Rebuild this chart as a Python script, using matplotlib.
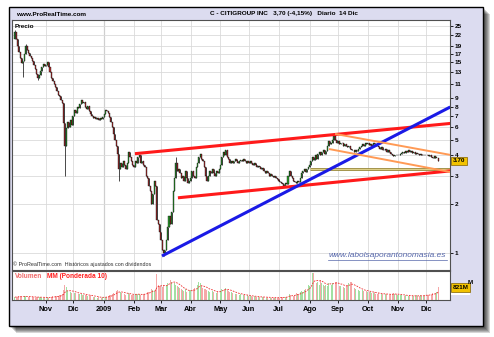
import numpy as np
import pandas as pd
import matplotlib
matplotlib.use('Agg')
import matplotlib.pyplot as plt
from matplotlib.patches import Rectangle

plt.rcParams['font.family'] = ['Liberation Sans', 'DejaVu Sans']

W, H = 494, 337

# daily closes, Oct 2008 .. 14 Dec 2009
close = [
    # Oct 2008
    23.0, 21.0, 19.0, 17.5, 16.0, 14.8, 15.2, 17.0, 19.0, 18.0, 17.2, 16.5, 16.0, 15.3, 14.5, 13.6, 12.8, 12.0, 12.6, 13.3, 14.0, 14.6, 14.2,
    # Nov
    14.5, 15.0, 14.0, 13.0, 12.0, 11.5, 11.0, 10.5, 10.0, 9.5, 9.3, 8.8, 8.4, 6.3, 4.6, 5.9, 6.4, 6.0, 6.6, 6.2,
    # Dec
    7.0, 7.6, 7.3, 8.0, 7.8, 8.3, 8.8, 8.4, 8.6, 8.0, 7.7, 8.1, 7.5, 7.2, 7.0, 6.8, 6.9, 6.7, 6.8, 6.6, 6.8, 6.7, 6.9,
    # Jan 2009
    7.2, 7.6, 7.5, 7.3, 6.9, 6.4, 6.0, 5.4, 5.0, 4.6, 4.1, 3.3, 3.6, 3.4, 3.7, 3.5, 3.3, 3.6, 4.2, 3.9, 3.7, 3.5,
    # Feb
    3.4, 3.7, 3.6, 3.9, 4.0, 3.6, 3.7, 3.5, 3.4, 3.0, 2.9, 2.6, 2.4, 2.0, 2.3, 2.8, 2.6, 1.6, 1.5, 1.35,
    # Mar
    1.2, 1.05, 1.0, 1.05, 1.2, 1.45, 1.7, 1.5, 1.8, 2.4, 2.9, 3.6, 3.2, 3.3, 3.1, 2.9, 3.0, 2.8, 3.2, 2.9, 2.7, 2.8,
    # Apr
    2.9, 3.2, 3.0, 2.9, 3.4, 3.6, 3.9, 4.1, 3.8, 3.7, 3.4, 3.0, 2.8, 3.0, 3.2, 3.1, 3.3, 3.1, 3.0, 3.2, 3.1, 3.3,
    # May
    3.5, 3.9, 4.2, 4.0, 4.3, 3.9, 3.8, 3.6, 3.7, 3.6, 3.7, 3.8, 3.7, 3.6, 3.7, 3.75, 3.7, 3.8, 3.7, 3.6, 3.7,
    # Jun
    3.6, 3.7, 3.6, 3.5, 3.6, 3.5, 3.4, 3.45, 3.4, 3.3, 3.35, 3.2, 3.1, 3.2, 3.1, 3.0, 3.05, 3.0, 2.95, 3.0, 2.9, 2.85,
    # Jul
    2.8, 2.75, 2.7, 2.65, 2.6, 2.7, 2.65, 3.0, 3.2, 3.0, 2.9, 2.8, 2.75, 2.7, 2.8, 2.75, 2.9, 3.1, 3.2, 3.3, 3.15, 3.3, 3.4,
    # Aug
    3.5, 3.7, 3.9, 3.75, 4.0, 3.8, 4.1, 4.2, 4.0, 4.2, 4.3, 4.1, 4.25, 4.6, 4.9, 4.7, 4.8, 5.0, 5.3, 5.0, 4.8,
    # Sep
    4.9, 4.7, 4.8, 4.75, 4.6, 4.7, 4.6, 4.5, 4.6, 4.4, 4.3, 4.35, 4.2, 4.3, 4.25, 4.4, 4.5, 4.6, 4.7, 4.6, 4.75, 4.7,
    # Oct
    4.8, 4.65, 4.7, 4.6, 4.75, 4.7, 4.6, 4.55, 4.5, 4.4, 4.5, 4.35, 4.3, 4.4, 4.2, 4.3, 4.2, 4.1, 4.0, 3.95, 4.05, 4.0,
    # Nov
    4.0, 4.05, 4.1, 4.15, 4.2, 4.15, 4.25, 4.2, 4.3, 4.2, 4.25, 4.15, 4.2, 4.1, 4.15, 4.1, 4.05, 4.1, 4.0, 4.05, 4.0,
    # Dec
    4.05, 4.0, 3.95, 4.0, 3.9, 3.85, 3.95, 3.85, 3.86, 3.70,
]

# daily volume, millions of shares
volume = [
    180, 210, 190, 230, 250, 200, 260, 240, 280, 220, 200, 190, 180, 210, 170, 160, 200, 190, 180, 170, 150, 160, 170,
    150, 170, 160, 190, 200, 230, 210, 250, 260, 280, 300, 330, 420, 650, 1000, 850, 600, 500, 550, 450,
    520, 480, 430, 460, 400, 420, 380, 350, 330, 360, 300, 280, 260, 300, 250, 220, 200, 180, 150, 170, 160, 140, 180,
    180, 220, 200, 260, 300, 350, 400, 450, 550, 620, 680, 580, 500, 450, 420, 380, 360, 400, 450, 380, 330, 350,
    320, 380, 400, 420, 380, 350, 330, 370, 420, 480, 500, 550, 600, 700, 650, 600, 700, 1700, 1000, 900,
    950, 850, 1000, 800, 900, 1100, 1400, 1300, 1200, 1350, 1100, 1000, 900, 850, 800, 700, 650, 600, 700, 550, 500, 600,
    650, 600, 700, 800, 900, 1000, 1200, 1100, 900, 800, 700, 750, 650, 600, 550, 700, 600, 500, 550, 450, 500, 550,
    600, 750, 850, 700, 800, 650, 600, 550, 500, 450, 480, 420, 400, 380, 350, 400, 330, 300, 320, 280, 300,
    260, 240, 250, 220, 230, 200, 210, 190, 200, 180, 190, 170, 180, 160, 170, 150, 160, 140, 150, 140, 160, 150,
    150, 160, 170, 180, 200, 190, 220, 300, 400, 350, 300, 280, 320, 450, 380, 420, 500, 600, 550, 650, 700, 800, 1000,
    900, 1200, 1750, 1800, 1300, 1100, 1200, 1000, 1300, 1100, 1000, 900, 1000, 950, 1100, 1200, 1000, 1100, 1200, 1150, 1200,
    1000, 950, 900, 1000, 850, 800, 900, 1000, 1100, 1200, 1150, 1000, 800, 700, 750, 650, 600, 700, 650, 600, 550, 600,
    550, 500, 520, 480, 450, 500, 420, 400, 450, 380, 420, 400, 350, 380, 400, 330, 350, 380, 420, 450, 400, 380,
    350, 330, 300, 350, 320, 280, 300, 260, 280, 300, 250, 270, 260, 240, 300, 280, 260, 300, 250, 280, 320,
    400, 350, 300, 380, 330, 450, 500, 480, 550, 821,
]

open_first = 21.0
wick_high = {0: 23.8, 8: 19.5, 119: 3.9, 236: 5.5}
wick_low = {6: 12.2, 17: 11.7, 37: 3.0, 77: 2.8, 110: 0.96}

month_labels = ['Nov', 'Dic', '2009', 'Feb', 'Mar', 'Abr', 'May', 'Jun', 'Jul', 'Ago', 'Sep', 'Oct', 'Nov', 'Dic']
price_ticks = [1, 2, 3, 4, 5, 6, 7, 8, 9, 11, 13, 15, 17, 19, 22, 25]

# drawn lines: (bar0, price0, bar1, price1, colour, width)
trend_lines = [
    (88.8, 4.10, 322, 6.30, '#ff1a1a', 2.2),
    (120.6, 2.19, 322, 3.21, '#ff1a1a', 2.2),
    (108.8, 0.958, 322, 7.96, '#1a1ae6', 2.2),
    (236.8, 5.43, 322, 4.03, '#ff9a55', 1.4),
    (232.3, 4.38, 322, 3.16, '#ff9a55', 1.4),
]
level_line = (218.3, 3.28)

dates = pd.bdate_range('2008-10-01', periods=len(close))
idx = np.arange(len(close))
month_pos = [i for i in range(1, len(dates)) if dates[i].month != dates[i - 1].month]

c = np.array(close)
o = np.concatenate([[open_first], c[:-1]])
up = c >= o
body_lo = np.minimum(o, c)
body_hi = np.maximum(o, c)
hi = body_hi.copy()
lo = body_lo.copy()
for k, v in wick_high.items():
    hi[k] = v
for k, v in wick_low.items():
    lo[k] = v


def wma(values, n=10):
    out = []
    for i in range(len(values)):
        seg = np.array(values[max(0, i - n + 1): i + 1], dtype=float)
        w = np.arange(1, len(seg) + 1)
        out.append((seg * w).sum() / w.sum())
    return np.array(out)


def fx(x):
    return x / W


def fy(y):
    return 1 - y / H


fig = plt.figure(figsize=(W / 100, H / 100), dpi=100)
fig.patch.set_facecolor('white')

# shadow + frame
for k in range(2, 8):
    fig.add_artist(Rectangle((fx(9 + k), fy(326 + k)), fx(474), 319 / H, transform=fig.transFigure,
                             facecolor='black', edgecolor='none', alpha=0.16, zorder=-5))
fig.add_artist(Rectangle((fx(9), fy(326)), fx(474), 319 / H, transform=fig.transFigure,
                         facecolor='#dcdcf0', edgecolor='black', lw=1.0, zorder=-4))

# price panel
ax = fig.add_axes([fx(12), fy(270), fx(438), 250 / H])
ax.set_facecolor('white')
ax.set_yscale('log')
ax.set_xlim(-2.1, 321.8)
ax.set_ylim(0.785, 27.4)
ax.set_yticks(price_ticks)
ax.set_yticklabels([str(t) for t in price_ticks])
ax.yaxis.set_minor_locator(matplotlib.ticker.NullLocator())
ax.yaxis.tick_right()
ax.tick_params(axis='y', length=2.5, width=0.6, pad=1, labelsize=4.6, colors='black')
for t in ax.get_yticklabels():
    t.set_fontweight('bold')
ax.set_xticks(month_pos)
ax.tick_params(axis='x', length=0, labelbottom=False)
ax.grid(True, color='#dadada', lw=0.6)
ax.set_axisbelow(True)
ax.axvline(month_pos[2], color='#9a9a9a', lw=0.8, zorder=0.5)
for s in ax.spines.values():
    s.set_color('#505050')
    s.set_linewidth(0.8)

ax.vlines(idx, lo, hi, color='black', lw=0.5, zorder=2)
hgt = np.maximum(body_hi - body_lo, body_lo * 0.01)
ax.bar(idx, hgt, bottom=body_lo, width=0.75, color=np.where(up, '#2f9a2f', '#b03030'),
       edgecolor='black', linewidth=0.25, zorder=3)

ax.plot([level_line[0], 322], [level_line[1], level_line[1]], color='#9a8a3a', lw=2.0, zorder=4,
        solid_capstyle='butt')
ax.plot([level_line[0], 322], [level_line[1], level_line[1]], color='#e0d28a', lw=0.7, zorder=4,
        solid_capstyle='butt')
for x0, p0, x1, p1, col, lw in trend_lines:
    ax.plot([x0, x1], [p0, p1], color=col, lw=lw, zorder=5, solid_capstyle='butt')

ax.text(0.005, 0.985, 'Precio', transform=ax.transAxes, fontsize=4.6, fontweight='bold', va='top', ha='left')
ax.text(0.002, 0.012, '© ProRealTime.com  Históricos ajustados con dividendos', transform=ax.transAxes,
        fontsize=3.9, color='#303030', va='bottom', ha='left')
ax.text(0.722, 0.045, 'www.labolsaporantonomasia.es', transform=ax.transAxes, fontsize=6.0,
        style='italic', color='#5566aa', va='bottom', ha='left')
ax.plot([0.722, 0.994], [0.040, 0.040], transform=ax.transAxes, color='#5566aa', lw=0.5)

ax.annotate('3.70', xy=(1.006, close[-1]), xycoords=('axes fraction', 'data'), fontsize=4.6,
            fontweight='bold', va='center', ha='left', annotation_clip=False,
            bbox=dict(boxstyle='square,pad=0.25', facecolor='#f2c200', edgecolor='#806000', lw=0.5))

# volume panel
axv = fig.add_axes([fx(12), fy(300), fx(438), 29 / H])
axv.set_facecolor('white')
axv.set_xlim(-2.1, 321.8)
axv.set_ylim(0, 1900)
axv.bar(idx, volume, width=0.6, color=np.where(up, '#a2e0a2', '#f5a8a8'), zorder=2)
axv.plot(idx, wma(volume), color='#ee3030', lw=0.6, ls=(0, (2, 1.4)), zorder=3)
axv.set_yticks([])
axv.set_xticks(month_pos[:len(month_labels)])
axv.set_xticklabels(month_labels)
axv.tick_params(axis='x', length=2, width=0.6, pad=2.5, labelsize=5.3)
for t in axv.get_xticklabels():
    t.set_fontweight('bold')
axv.grid(True, axis='x', color='#dadada', lw=0.6)
axv.set_axisbelow(True)
for s in axv.spines.values():
    s.set_color('#505050')
    s.set_linewidth(0.8)
axv.text(0.006, 0.93, 'Volumen', transform=axv.transAxes, fontsize=4.7, fontweight='bold',
         color='#f06a6a', va='top', ha='left')
axv.text(0.080, 0.93, 'MM (Ponderada 10)', transform=axv.transAxes, fontsize=4.7, fontweight='bold',
         color='#ff2020', va='top', ha='left')
axv.annotate('%dM' % round(wma(volume)[-1]), xy=(1.006, volume[-1] * 0.72), xycoords=('axes fraction', 'data'),
             fontsize=4.6, fontweight='bold', color='#ff0000', va='center', ha='left', annotation_clip=False,
             bbox=dict(boxstyle='square,pad=0.2', facecolor='white', edgecolor='none'))
axv.annotate('%dM' % volume[-1], xy=(1.006, volume[-1]), xycoords=('axes fraction', 'data'), fontsize=4.6,
             fontweight='bold', va='center', ha='left', annotation_clip=False,
             bbox=dict(boxstyle='square,pad=0.25', facecolor='#f2c200', edgecolor='#806000', lw=0.5))
fig.text(fx(468), fy(282), 'M', fontsize=4.6, fontweight='bold', va='center', ha='left')

# header
fig.text(fx(16), fy(14), 'www.ProRealTime.com', fontsize=4.6, fontweight='bold', va='center', ha='left')
fig.text(fx(210), fy(14), 'C - CITIGROUP INC   3,70 (-4,15%)   Diario  14 Dic', fontsize=4.6,
         fontweight='bold', va='center', ha='left')

fig.savefig('out.png', dpi=100)
